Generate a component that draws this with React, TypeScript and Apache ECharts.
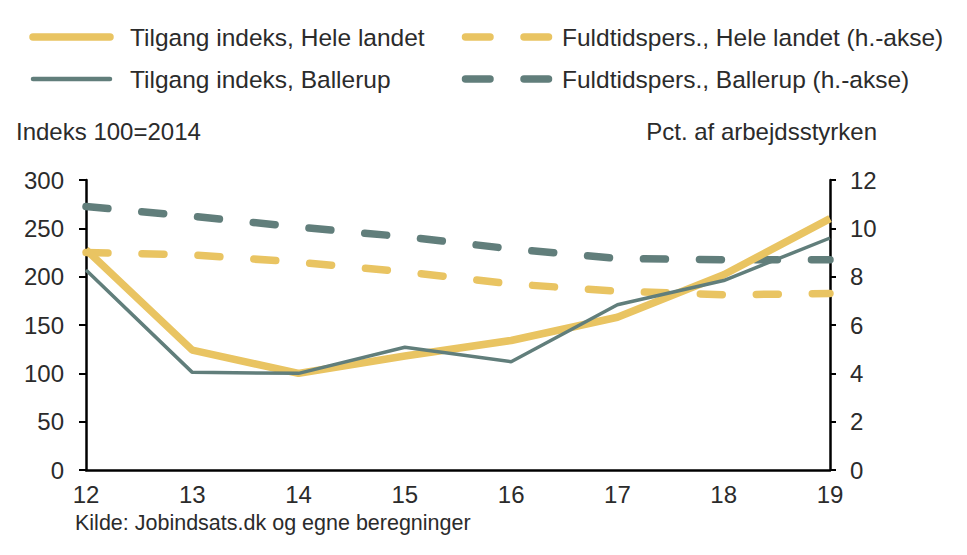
import React, { useEffect, useRef } from "react";
import * as echarts from "echarts";

const categories = ["12", "13", "14", "15", "16", "17", "18", "19"];
const tilgangHele = [228, 124, 100, 118, 134, 158, 202, 260];
const tilgangBallerup = [207, 101, 100, 127, 112, 171, 196, 240];
const fuldtidHele = [9.0, 8.9, 8.6, 8.2, 7.7, 7.4, 7.25, 7.3];
const fuldtidBallerup = [10.9, 10.5, 10.05, 9.65, 9.15, 8.75, 8.7, 8.7];

const names = [
  "Tilgang indeks, Hele landet",
  "Tilgang indeks, Ballerup",
  "Fuldtidspers., Hele landet (h.-akse)",
  "Fuldtidspers., Ballerup (h.-akse)",
];

const GOLD = "#E9C462";
const TEAL = "#617E7B";
const TXT = "#2b2b2b";
const FONT = "'Liberation Sans', Arial, sans-serif";

export default function App() {
  const ref = useRef<HTMLDivElement>(null);
  useEffect(() => {
    if (!ref.current) return;
    const chart = echarts.init(ref.current, undefined, { renderer: "svg" });

    const legendItem = (x: number, y: number, name: string, color: string, width: number, dashed: boolean) => {
      const els: any[] = [];
      if (dashed) {
        els.push({
          type: "line",
          shape: { x1: x + 3.5, y1: y, x2: x + 28, y2: y },
          style: { stroke: color, lineWidth: 7.5, lineCap: "round" },
        });
        els.push({
          type: "line",
          shape: { x1: x + 62, y1: y, x2: x + 86.5, y2: y },
          style: { stroke: color, lineWidth: 7.5, lineCap: "round" },
        });
      } else {
        els.push({
          type: "line",
          shape: { x1: x + 3, y1: y, x2: x + 80, y2: y },
          style: { stroke: color, lineWidth: width, lineCap: "round" },
        });
      }
      els.push({
        type: "text",
        x: x + 100,
        y: y,
        style: { text: name, font: `24.5px ${FONT}`, fill: TXT, verticalAlign: "middle" },
      });
      return els;
    };

    chart.setOption({
      animation: false,
      backgroundColor: "#fff",
      textStyle: { fontFamily: FONT },
      grid: { left: 86, right: 137, top: 180, bottom: 85, containLabel: false },
      graphic: [
        {
          type: "line",
          shape: { x1: 18, y1: 4, x2: 836, y2: 4 },
          style: { stroke: "#dddddd", lineWidth: 2 },
        },
        ...legendItem(30, 37, names[0], GOLD, 7.5, false),
        ...legendItem(30, 79, names[1], TEAL, 4.5, false),
        ...legendItem(462, 37, names[2], GOLD, 7.5, true),
        ...legendItem(462, 79, names[3], TEAL, 7.5, true),
        {
          type: "text",
          x: 16,
          y: 131,
          style: { text: "Indeks 100=2014", font: `24px ${FONT}`, fill: TXT, verticalAlign: "middle" },
        },
        {
          type: "text",
          x: 877,
          y: 131,
          style: { text: "Pct. af arbejdsstyrken", font: `24px ${FONT}`, fill: TXT, verticalAlign: "middle", align: "right" },
        },
        {
          type: "text",
          x: 75,
          y: 523,
          style: { text: "Kilde: Jobindsats.dk og egne beregninger", font: `21.5px ${FONT}`, fill: TXT, verticalAlign: "middle" },
        },
      ],
      xAxis: {
        type: "category",
        data: categories,
        boundaryGap: false,
        axisLine: { lineStyle: { color: "#000", width: 2.5 } },
        axisTick: { show: false },
        axisLabel: { fontSize: 24, color: TXT, margin: 12, fontFamily: FONT },
        splitLine: { show: false },
      },
      yAxis: [
        {
          type: "value",
          min: 0,
          max: 300,
          interval: 50,
          axisLine: { show: true, lineStyle: { color: "#000", width: 2.5 } },
          axisTick: { show: true, length: 7, lineStyle: { color: "#000", width: 2 } },
          axisLabel: { fontSize: 24, color: TXT, margin: 22, fontFamily: FONT },
          splitLine: { show: false },
        },
        {
          type: "value",
          min: 0,
          max: 12,
          interval: 2,
          position: "right",
          axisLine: { show: true, lineStyle: { color: "#000", width: 2.5 } },
          axisTick: { show: true, length: 6, lineStyle: { color: "#000", width: 2 } },
          axisLabel: { fontSize: 24, color: TXT, margin: 20, fontFamily: FONT },
          splitLine: { show: false },
        },
      ],
      series: [
        {
          name: names[2],
          type: "line",
          yAxisIndex: 1,
          data: fuldtidHele,
          symbol: "none",
          color: GOLD,
          lineStyle: { color: GOLD, width: 7.5, type: [22, 34], cap: "round" },
        },
        {
          name: names[3],
          type: "line",
          yAxisIndex: 1,
          data: fuldtidBallerup,
          symbol: "none",
          color: TEAL,
          lineStyle: { color: TEAL, width: 7.5, type: [22, 34], cap: "round" },
        },
        {
          name: names[0],
          type: "line",
          data: tilgangHele,
          symbol: "none",
          color: GOLD,
          lineStyle: { color: GOLD, width: 7.5 },
        },
        {
          name: names[1],
          type: "line",
          data: tilgangBallerup,
          symbol: "none",
          color: TEAL,
          lineStyle: { color: TEAL, width: 3.5 },
        },
      ],
    });
    return () => chart.dispose();
  }, []);
  return <div ref={ref} style={{ width: 967, height: 555, margin: -8 }} />;
}
